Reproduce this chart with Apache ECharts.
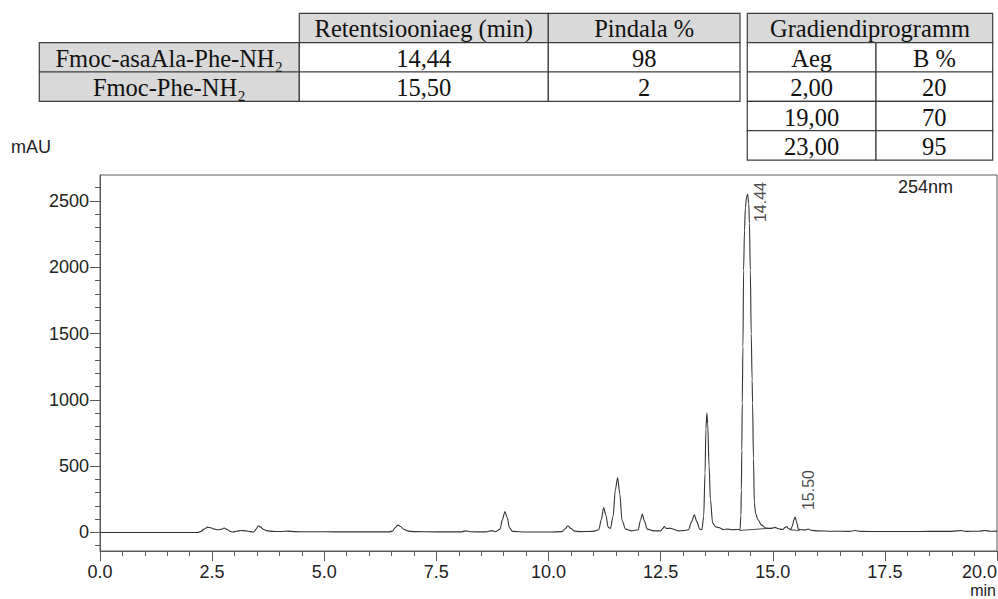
<!DOCTYPE html>
<html>
<head>
<meta charset="utf-8">
<title>HPLC – Fmoc-asaAla-Phe-NH₂</title>
<script src="https://cdn.jsdelivr.net/npm/echarts@6/dist/echarts.min.js"></script>
<style>
  html, body { margin: 0; padding: 0; background: #fff; }
  #chart { width: 998px; height: 599px; }
</style>
</head>
<body>
<div id="chart"></div>
<script>
// ---- Chromatogram at 254 nm: [retention time (min), signal (mAU)] ----
const trace = [
  [0, 0], [2.18, 0], [2.25, 8], [2.32, 25], [2.40, 40], [2.47, 35], [2.55, 25], [2.63, 20],
  [2.70, 24], [2.77, 33], [2.83, 22], [2.90, 8], [2.96, 3], [3.05, 9], [3.14, 15], [3.25, 12],
  [3.35, 6], [3.43, 3], [3.48, 25], [3.53, 50], [3.58, 40], [3.65, 22], [3.73, 12], [3.85, 8],
  [4.0, 7], [4.2, 10], [4.35, 6], [4.6, 5], [5.0, 5], [5.5, 4], [6.0, 4], [6.45, 4],
  [6.53, 12], [6.58, 35], [6.64, 55], [6.70, 45], [6.78, 22], [6.88, 10], [7.0, 6], [7.5, 4],
  [8.05, 4], [8.15, 12], [8.25, 5], [8.6, 4], [8.74, 14], [8.82, 5], [8.92, 25], [8.97, 95],
  [9.03, 158], [9.08, 110], [9.13, 35], [9.2, 8], [9.5, 3], [10.0, 3], [10.3, 6], [10.38, 30],
  [10.43, 50], [10.5, 30], [10.58, 10], [10.7, 6], [11.0, 8], [11.12, 20], [11.18, 100], [11.23, 188],
  [11.28, 130], [11.33, 40], [11.38, 30], [11.44, 120], [11.49, 320], [11.54, 414], [11.59, 290], [11.64, 90],
  [11.72, 25], [11.85, 12], [12.0, 20], [12.05, 90], [12.09, 139], [12.14, 85], [12.2, 25], [12.35, 12],
  [12.5, 12], [12.55, 30], [12.58, 45], [12.63, 30], [12.72, 32], [12.8, 22], [12.9, 12], [13.0, 14],
  [13.12, 20], [13.19, 80], [13.25, 133], [13.31, 80], [13.37, 25], [13.42, 20], [13.46, 120], [13.49, 450],
  [13.51, 780], [13.53, 900], [13.55, 820], [13.58, 500], [13.61, 250], [13.66, 70], [13.73, 42], [13.81, 35],
  [13.9, 22], [14.0, 25], [14.1, 20], [14.2, 22], [14.27, 22], [14.29, 130], [14.30, 320], [14.31, 620],
  [14.32, 975], [14.335, 1400], [14.35, 1978], [14.37, 2280], [14.39, 2450], [14.415, 2530],
  [14.465, 2480], [14.48, 2330], [14.50, 1978], [14.52, 1500], [14.54, 1150], [14.55, 975], [14.57, 560],
  [14.59, 221], [14.62, 140], [14.67, 96], [14.75, 55], [14.85, 33], [14.95, 30], [15.0, 34], [15.05, 38],
  [15.12, 28], [15.22, 22], [15.28, 38], [15.31, 45], [15.35, 30], [15.40, 22], [15.44, 50], [15.47, 95],
  [15.53, 80], [15.57, 25], [15.65, 20], [15.72, 18], [15.79, 26], [15.85, 16], [16.0, 12], [16.3, 9],
  [16.7, 8], [16.84, 15], [16.95, 8], [17.5, 7], [18.0, 7], [18.5, 8], [19.0, 8], [19.2, 15],
  [19.3, 8], [19.6, 9], [19.72, 15], [19.85, 9], [20.0, 10]
];

// ---- Integrated peaks ----
const compounds = ['Fmoc-asaAla-Phe-NH₂', 'Fmoc-Phe-NH₂'];
const peakTimes = [14.44, 15.50];        // min
const peakHeights = [2550, 116];         // mAU at apex
const peakAreas = [98, 2];               // area %

// Integration baselines drawn under the labelled peaks: [start, end]
const baselineSegments = [
  [[14.26, 15], [15.0, 33]],
  [[15.38, 20], [15.60, 15]]
];

// ---- Gradient programme ----
const gradientTimes = [2, 19, 23];
const gradientB = [20, 70, 95];

// ---- Axis ticks ----
const xLabelValues = [0, 2.5, 5, 7.5, 10, 12.5, 15, 17.5, 20];
const xTickValues = [0, 0.5, 1, 1.5, 2, 2.5, 3, 3.5, 4, 4.5, 5, 5.5, 6, 6.5, 7, 7.5, 8, 8.5, 9, 9.5,
  10, 10.5, 11, 11.5, 12, 12.5, 13, 13.5, 14, 14.5, 15, 15.5, 16, 16.5, 17, 17.5, 18, 18.5, 19, 19.5, 20];
const yLabelValues = [0, 500, 1000, 1500, 2000, 2500];
const yTickValues = [-100, 0, 100, 200, 300, 400, 500, 600, 700, 800, 900, 1000, 1100, 1200, 1300,
  1400, 1500, 1600, 1700, 1800, 1900, 2000, 2100, 2200, 2300, 2400, 2500, 2600];

// ---- Layout / style ----
const GRID = { left: 100, right: 1, top: 175, bottom: 48 };
const X_RANGE = [0, 20];
const Y_RANGE = [-140, 2696];
const AXIS_COLOR = '#5a5a5a';
const TRACE_COLOR = '#333';
const SANS = '"Liberation Sans", Arial, Helvetica, sans-serif';
const SERIF = '"Liberation Serif", "Times New Roman", serif';
const TABLE_FONT_SIZE = 24.5;
const CELL_GREY = '#d9d9d9';
const CELL_BORDER = '#3c3c3c';

// Trace with the labelled apexes merged in
const fullTrace = trace.concat(peakTimes.map((t, i) => [t, peakHeights[i]]))
  .sort((a, b) => a[0] - b[0]);

const fmtComma = (v, d) => v.toFixed(d).replace('.', ',');

// ---- Tables above the plot ----
function cell(x0, x1, y0, y1, fill, text) {
  const els = [{
    type: 'rect', silent: true,
    shape: { x: x0, y: y0, width: x1 - x0, height: y1 - y0 },
    style: { fill: fill, stroke: CELL_BORDER, lineWidth: 1.2 }
  }];
  if (text !== '') {
    els.push({
      type: 'text', silent: true, x: (x0 + x1) / 2, y: (y0 + y1) / 2 + 1,
      style: {
        text: text, fill: '#111', fontSize: TABLE_FONT_SIZE, fontFamily: SERIF,
        align: 'center', verticalAlign: 'middle', textAlign: 'center', textVerticalAlign: 'middle'
      }
    });
  }
  return els;
}

function buildTables() {
  const rowH = 29.35;
  const top = 13.3;
  const rows = k => top + k * rowH;
  let g = [];
  // Result table
  const c = [39.3, 299.3, 548.3, 740];
  g = g.concat(cell(c[1], c[2], rows(0), rows(1), CELL_GREY, 'Retentsiooniaeg (min)'));
  g = g.concat(cell(c[2], c[3], rows(0), rows(1), CELL_GREY, 'Pindala %'));
  compounds.forEach((name, i) => {
    g = g.concat(cell(c[0], c[1], rows(i + 1), rows(i + 2), CELL_GREY, name));
    g = g.concat(cell(c[1], c[2], rows(i + 1), rows(i + 2), '#fff', fmtComma(peakTimes[i], 2)));
    g = g.concat(cell(c[2], c[3], rows(i + 1), rows(i + 2), '#fff', String(peakAreas[i])));
  });
  // Gradient table
  const d = [747.3, 876, 992.7];
  g = g.concat(cell(d[0], d[2], rows(0), rows(1), CELL_GREY, 'Gradiendiprogramm'));
  g = g.concat(cell(d[0], d[1], rows(1), rows(2), '#fff', 'Aeg'));
  g = g.concat(cell(d[1], d[2], rows(1), rows(2), '#fff', 'B %'));
  gradientTimes.forEach((t, i) => {
    g = g.concat(cell(d[0], d[1], rows(i + 2), rows(i + 3), '#fff', fmtComma(t, 2)));
    g = g.concat(cell(d[1], d[2], rows(i + 2), rows(i + 3), '#fff', String(gradientB[i])));
  });
  return g;
}

function plainText(text, x, y, align, vAlign, size) {
  return {
    type: 'text', silent: true, x: x, y: y,
    style: {
      text: text, fill: '#222', fontSize: size, fontFamily: SANS,
      align: align, verticalAlign: vAlign, textAlign: align, textVerticalAlign: vAlign
    }
  };
}

const chart = echarts.init(document.getElementById('chart'), null, { renderer: 'svg' });

const axisText = { color: '#222', fontSize: 18, fontFamily: SANS };

const option = {
  animation: false,
  backgroundColor: '#fff',
  grid: {
    left: GRID.left, right: GRID.right, top: GRID.top, bottom: GRID.bottom,
    containLabel: false, outerBoundsMode: 'none',
    show: true, borderColor: AXIS_COLOR, borderWidth: 1, backgroundColor: 'transparent'
  },
  xAxis: [{
    type: 'value', min: X_RANGE[0], max: X_RANGE[1], position: 'bottom',
    axisLine: { show: true, onZero: false, lineStyle: { color: AXIS_COLOR, width: 1 } },
    axisTick: { show: true, length: 10, customValues: xLabelValues, lineStyle: { color: AXIS_COLOR } },
    axisLabel: Object.assign({
      customValues: xLabelValues, margin: 12, alignMaxLabel: 'right',
      formatter: v => v.toFixed(1)
    }, axisText),
    splitLine: { show: false }
  }, {
    type: 'value', min: X_RANGE[0], max: X_RANGE[1], position: 'bottom',
    axisLine: { show: false, onZero: false },
    axisTick: { show: true, length: 5, customValues: xTickValues, lineStyle: { color: AXIS_COLOR } },
    axisLabel: { show: false },
    splitLine: { show: false }
  }],
  yAxis: [{
    type: 'value', min: Y_RANGE[0], max: Y_RANGE[1], position: 'left',
    axisLine: { show: true, onZero: false, lineStyle: { color: AXIS_COLOR, width: 1 } },
    axisTick: { show: true, length: 10, customValues: yLabelValues, lineStyle: { color: AXIS_COLOR } },
    axisLabel: Object.assign({ customValues: yLabelValues, margin: 11, formatter: v => String(v) }, axisText),
    splitLine: { show: false }
  }, {
    type: 'value', min: Y_RANGE[0], max: Y_RANGE[1], position: 'left',
    axisLine: { show: false, onZero: false },
    axisTick: { show: true, length: 5, customValues: yTickValues, lineStyle: { color: AXIS_COLOR } },
    axisLabel: { show: false },
    splitLine: { show: false }
  }],
  graphic: buildTables().concat([
    plainText('mAU', 11, 147, 'left', 'middle', 18),
    plainText('254nm', 898, 187, 'left', 'middle', 18),
    plainText('min', 996, 598, 'right', 'bottom', 16)
  ]),
  series: [{
    name: '254nm',
    type: 'line',
    data: fullTrace,
    showSymbol: false,
    smooth: 0.3,
    smoothMonotone: 'x',
    lineStyle: { color: TRACE_COLOR, width: 1.1 },
    z: 3
  }].concat(baselineSegments.map((seg, i) => ({
    name: 'baseline ' + (i + 1),
    type: 'line',
    data: seg,
    showSymbol: false,
    lineStyle: { color: TRACE_COLOR, width: 0.9 },
    z: 2
  }))).concat([{
    name: 'peak labels',
    type: 'scatter',
    data: peakTimes.map((t, i) => [t, peakHeights[i]]),
    symbol: 'circle',
    symbolSize: 1,
    itemStyle: { color: 'transparent' },
    label: {
      show: true,
      rotate: 90,
      align: 'left',
      verticalAlign: 'middle',
      color: '#1a1a1a',
      fontSize: 16,
      fontFamily: SANS,
      formatter: p => p.value[0].toFixed(2)
    },
    // keep each label just right of its apex, pushed down if it would leave the plot
    labelLayout: function (p) {
      const len = p.labelRect.height;
      const cx = p.rect.x + p.rect.width / 2;
      const cy = p.rect.y + p.rect.height / 2;
      let y = cy - 7;
      const minY = GRID.top + 7 + len;
      if (y < minY) y = minY;
      return { x: cx + 13, y: y };
    },
    z: 4
  }])
};

chart.setOption(option);
</script>
</body>
</html>
